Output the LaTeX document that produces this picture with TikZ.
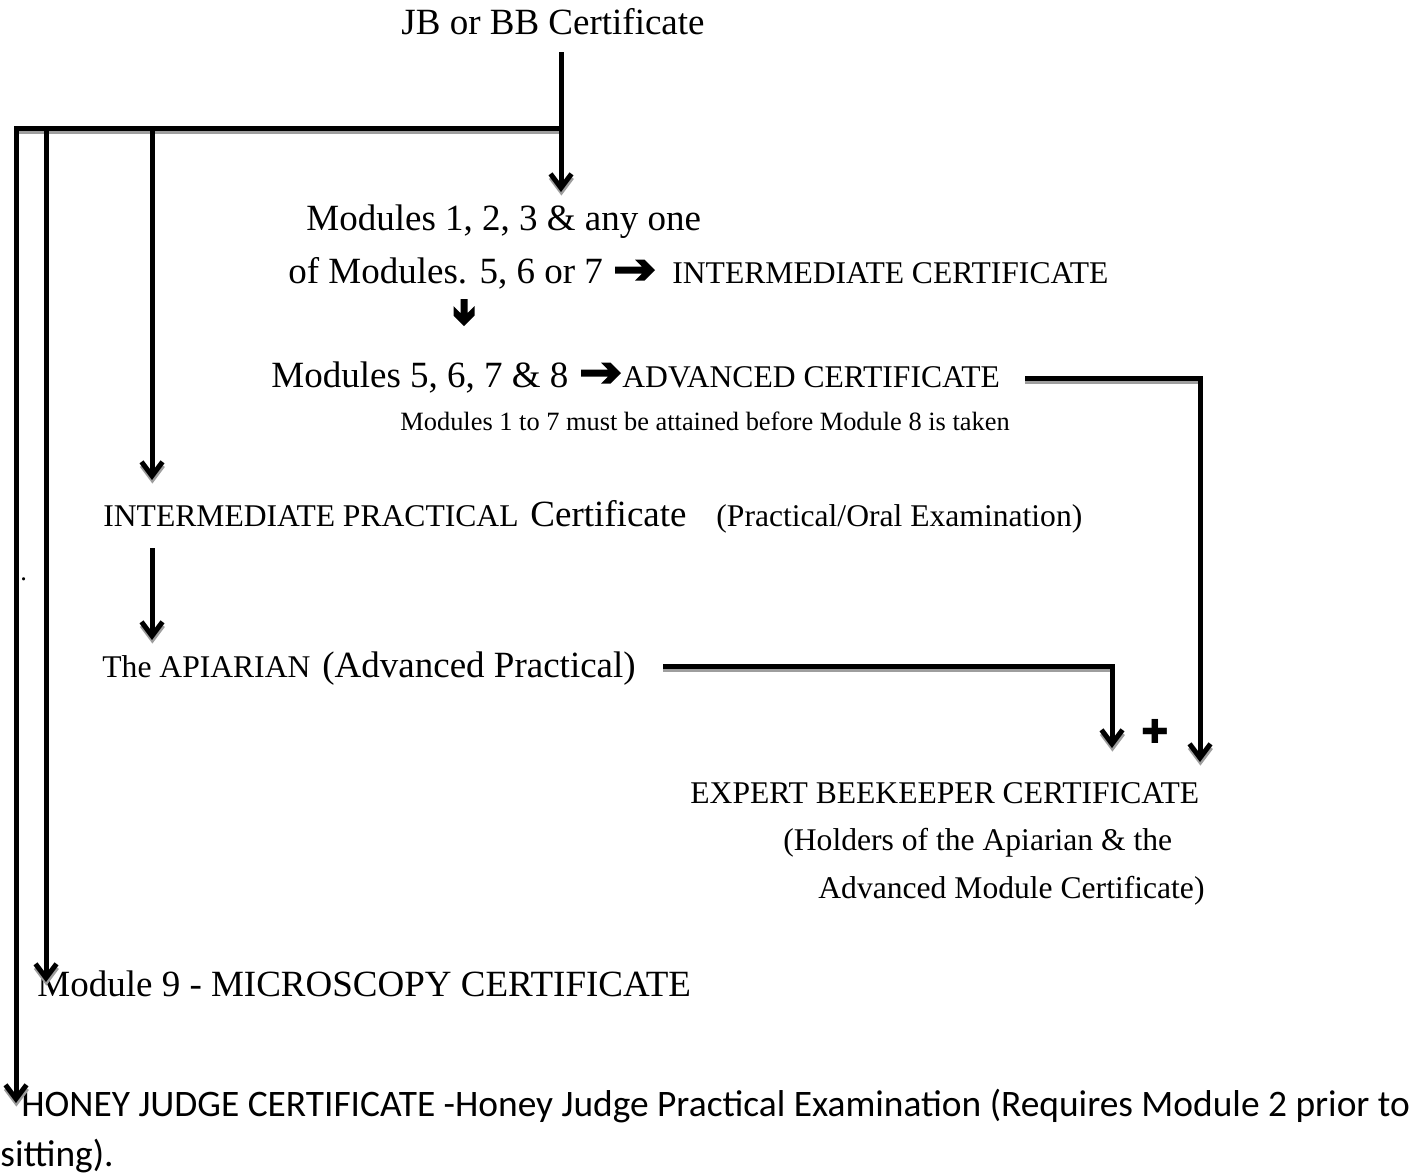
\documentclass[tikz,border=0pt]{standalone}
\usepackage{fontspec}
\setmainfont{Liberation Serif}
\newfontfamily\calib{Carlito}
\newfontfamily\dejavu{DejaVu Sans}
\usetikzlibrary{arrows.meta}
\begin{document}
\begin{tikzpicture}[x=0.5pt,y=-0.5pt,
  txt/.style={inner sep=0pt, anchor=base west},
  big/.style={txt, font=\fontsize{18.5}{22}\selectfont},
  med/.style={txt, font=\fontsize{15.8}{18}\selectfont},
  small/.style={txt, font=\fontsize{13.2}{15}\selectfont},
  cal/.style={txt, font=\calib\fontsize{18.7}{22}\selectfont},
  plussign/.style={inner sep=0pt, font=\dejavu\fontsize{16.5}{18}\selectfont},
  conn/.style={line width=2.5pt, line join=miter,
    preaction={draw=black!38, line width=2.5pt, transform canvas={shift={(0.2pt,-1.8pt)}}}},
  arr/.style={conn, -{Straight Barb[length=7pt,width=10.5pt]}},
  heavyright/.pic={\fill (-40,-3.5) -- (-13,-3.5) -- (-20,-10.5) -- (-10.5,-10.5) -- (0,0)
      -- (-10.5,10.5) -- (-20,10.5) -- (-13,3.5) -- (-40,3.5) -- cycle;},
  heavydown/.pic={\fill (-3.5,-27) -- (-3.5,-13) -- (-10.5,-20) -- (-10.5,-10.5) -- (0,0)
      -- (10.5,-10.5) -- (10.5,-20) -- (3.5,-13) -- (3.5,-27) -- cycle;},
]
\useasboundingbox (0,0) rectangle (1424,1175);

% texts
\node[big, anchor=base] (jb) at (553,34) {JB or BB Certificate};
\node[big] (m123) at (306,230) {Modules 1, 2, 3 \& any one};
\node[big] (of567) at (288,283) {of Modules. 5, 6 or 7};
\node[med] (inter) at (672,283) {INTERMEDIATE CERTIFICATE};
\node[big] (m5678) at (271,387) {Modules 5, 6, 7 \& 8};
\node[med] (adv) at (622,387) {ADVANCED CERTIFICATE};
\node[small] (note) at (400,430) {Modules 1 to 7 must be attained before Module 8 is taken};
\node[med] (ip) at (103,526) {INTERMEDIATE PRACTICAL};
\node[big] (ipc) at (530,526) {Certificate};
\node[med] (ipo) at (716,526) {(Practical/Oral Examination)};
\node[med] (api) at (102,677) {The APIARIAN};
\node[big] (apiadv) at (322,677) {(Advanced Practical)};
\node[plussign] (plus) at (1155,731) {✚};
\node[med] (exp) at (690,803) {EXPERT BEEKEEPER CERTIFICATE};
\node[med] (hold) at (783,850) {(Holders of the Apiarian \& the};
\node[med] (advm) at (818,898) {Advanced Module Certificate)};
\node[big] (mic) at (37,996) {Module 9 - MICROSCOPY CERTIFICATE};
\node[cal] (hj) at (21,1116) {HONEY JUDGE CERTIFICATE -Honey Judge Practical Examination (Requires Module 2 prior to};
\node[cal] (sit) at (0,1166) {sitting).};
\node[small] (dot) at (20,580) {.};

% heavy arrow symbols between texts
\coordinate (ra1) at (655,270);
\coordinate (da) at (464,326);
\coordinate (ra2) at (621,373);
\pic at (ra1) {heavyright};
\pic at (da) {heavydown};
\pic at (ra2) {heavyright};

% connector points
\coordinate (jbo) at (561,52);
\coordinate (jn) at (561,128);
\coordinate (jl) at (14,128);
\coordinate (m123tip) at (561,192);
\coordinate (b1) at (16,128);
\coordinate (hjtip) at (16,1103);
\coordinate (b2) at (46,128);
\coordinate (mictip) at (46,982);
\coordinate (b3) at (152,128);
\coordinate (iptip) at (152,480);
\coordinate (ipo2) at (152,548);
\coordinate (apitip) at (152,640);
\coordinate (advl) at (1025,378);
\coordinate (exptip2) at (1200,762);
\coordinate (apil) at (663,666);
\coordinate (exptip1) at (1112,748);

% connectors
\draw[conn] (jbo) -- (jn) -- (jl);
\draw[arr] (jn) -- (m123tip);
\draw[arr] (b1) -- (hjtip);
\draw[arr] (b2) -- (mictip);
\draw[arr] (b3) -- (iptip);
\draw[arr] (ipo2) -- (apitip);
\draw[arr] (advl) -| (exptip2);
\draw[arr] (apil) -| (exptip1);
\end{tikzpicture}
\end{document}
